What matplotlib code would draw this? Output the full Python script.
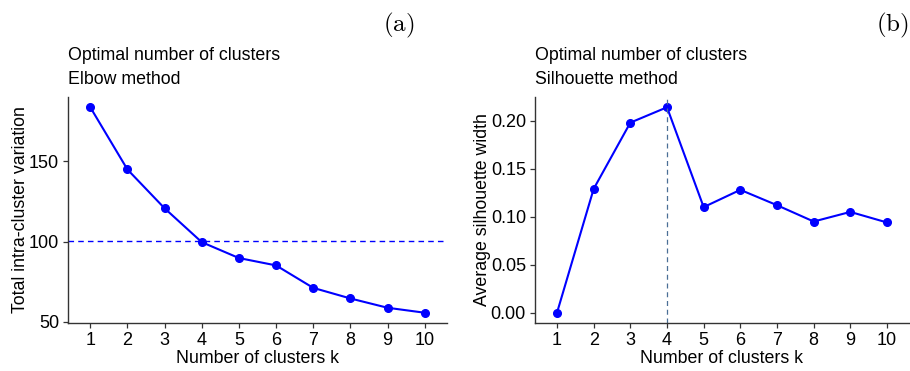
import matplotlib
matplotlib.use("Agg")
import matplotlib.pyplot as plt

plt.rcParams['font.family'] = ['Liberation Sans', 'DejaVu Sans']
plt.rcParams['mathtext.fontset'] = 'cm'

# datos
k = [1, 2, 3, 4, 5, 6, 7, 8, 9, 10]
wss = [183.7, 144.9, 120.7, 99.6, 89.7, 85.1, 71.1, 64.5, 58.7, 55.6]
silueta = [0.000, 0.129, 0.198, 0.214, 0.110, 0.128, 0.112, 0.095, 0.105, 0.094]
linea_codo = 100.6
k_optimo = 4

AZUL = "#0000ff"
TAM = 12.8
fig = plt.figure(figsize=(9.1, 3.71), dpi=100)

ax1 = fig.add_axes([68/910, 1-323/371, 379/910, 226/371])
ax2 = fig.add_axes([535/910, 1-323/371, 374/910, 226/371])


def estilo(ax):
    for s in ["top", "right"]:
        ax.spines[s].set_visible(False)
    for s in ["left", "bottom"]:
        ax.spines[s].set_color("#333333")
        ax.spines[s].set_linewidth(1.0)
    ax.tick_params(axis="both", direction="out", length=3.5, width=0.9,
                   color="#333333", labelsize=13, labelcolor="black", pad=3)
    ax.set_xlim(0.4, 10.6)
    ax.set_xticks(k)
    ax.set_xlabel("Number of clusters k", fontsize=TAM, labelpad=1)


# Panel (a): metodo del codo
ax1.plot(k, wss, color=AZUL, lw=1.5, marker="o", markersize=5.5)
ax1.axhline(linea_codo, color=AZUL, lw=1.0, ls=(0, (4, 3)))
estilo(ax1)
ax1.set_ylim(49.2, 190.1)
ax1.set_yticks([50, 100, 150])
ax1.set_ylabel("Total intra-cluster variation", fontsize=TAM, labelpad=0)

# Panel (b): silueta
ax2.plot(k, silueta, color=AZUL, lw=1.5, marker="o", markersize=5.5)
ax2.axvline(k_optimo, color="#4a6f96", lw=0.9, ls=(0, (4, 3)))
estilo(ax2)
ax2.set_ylim(-0.0107, 0.2247)
ax2.set_yticks([0.0, 0.05, 0.10, 0.15, 0.20])
ax2.set_yticklabels(["0.00", "0.05", "0.10", "0.15", "0.20"])
ax2.set_ylabel("Average silhouette width", fontsize=TAM, labelpad=0)

# titulos
fig.text(68/910, 1-55/371, "Optimal number of clusters", fontsize=TAM, va="center")
fig.text(68/910, 1-80/371, "Elbow method", fontsize=TAM, va="center")
fig.text(535/910, 1-55/371, "Optimal number of clusters", fontsize=TAM, va="center")
fig.text(535/910, 1-80/371, "Silhouette method", fontsize=TAM, va="center")

fig.text(399/910, 1-25/371, r"$\mathrm{(a)}$", fontsize=18, ha="center", va="center")
fig.text(892/910, 1-25/371, r"$\mathrm{(b)}$", fontsize=18, ha="center", va="center")

fig.savefig("out.png", dpi=100)
